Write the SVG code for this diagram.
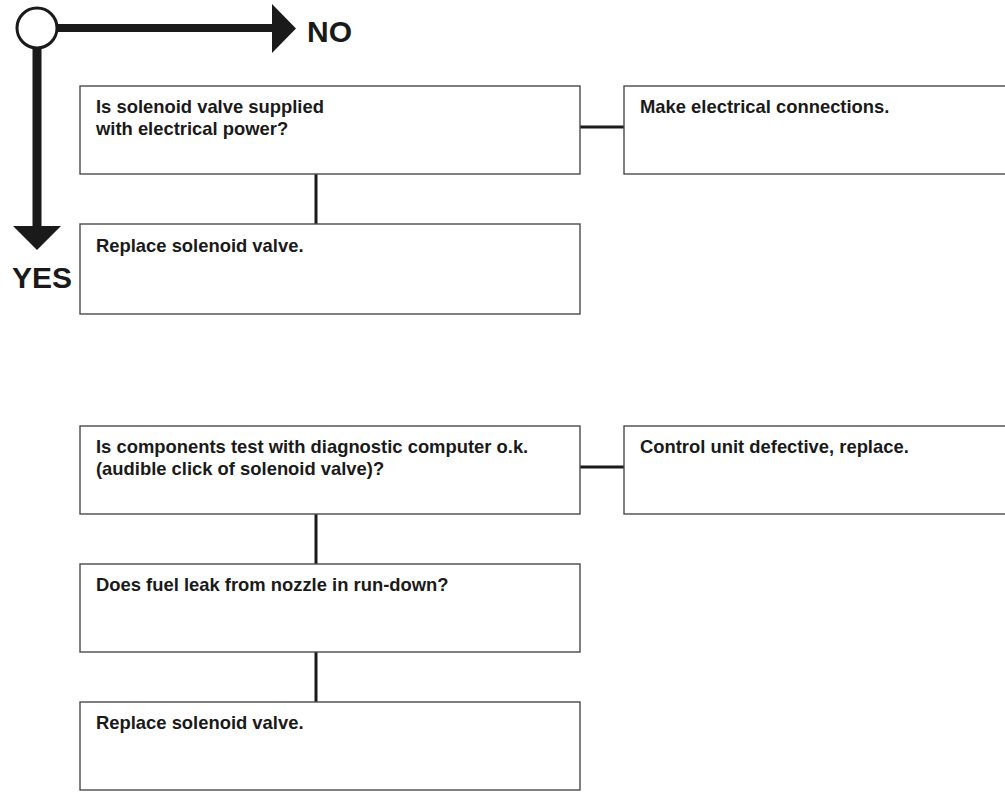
<svg xmlns="http://www.w3.org/2000/svg" width="1005" height="792" viewBox="0 0 1005 792">
<style>
.box{fill:#fff;stroke:#4a4a4a;stroke-width:1.4}
.t{font-family:"Liberation Sans",Arial,sans-serif;font-weight:bold;font-size:18.4px;fill:#1a1a1a}
.big{font-family:"Liberation Sans",Arial,sans-serif;font-weight:bold;font-size:30px;fill:#1a1a1a}
.conn{stroke:#1a1a1a;stroke-width:3;fill:none}
</style>
<rect width="1005" height="792" fill="#fff"/>
<g id="legend">
<line x1="57" y1="28" x2="274" y2="28" stroke="#1a1a1a" stroke-width="8"/>
<polygon points="272,4 296,28.5 272,53" fill="#1a1a1a"/>
<line x1="37" y1="48" x2="37" y2="229" stroke="#1a1a1a" stroke-width="9"/>
<polygon points="13,226 61,226 37,250" fill="#1a1a1a"/>
<circle cx="37" cy="28" r="20" fill="#fff" stroke="#1a1a1a" stroke-width="3"/>
<text class="big" x="307" y="42">NO</text>
<text class="big" x="12" y="288">YES</text>
</g>
<g id="connectors">
<line class="conn" x1="580" y1="127" x2="624" y2="127"/>
<line class="conn" x1="316" y1="174" x2="316" y2="224"/>
<line class="conn" x1="580" y1="467" x2="624" y2="467"/>
<line class="conn" x1="316" y1="514" x2="316" y2="564"/>
<line class="conn" x1="316" y1="652" x2="316" y2="702"/>
</g>
<g id="n1"><rect class="box" x="80" y="86" width="500" height="88"/>
<text class="t" x="96" y="113">Is solenoid valve supplied</text>
<text class="t" x="96" y="135">with electrical power?</text></g>
<g id="n2"><rect class="box" x="624" y="86" width="400" height="88"/>
<text class="t" x="640" y="113">Make electrical connections.</text></g>
<g id="n3"><rect class="box" x="80" y="224" width="500" height="90"/>
<text class="t" x="96" y="252">Replace solenoid valve.</text></g>
<g id="n4"><rect class="box" x="80" y="426" width="500" height="88"/>
<text class="t" x="96" y="453">Is components test with diagnostic computer o.k.</text>
<text class="t" x="96" y="475">(audible click of solenoid valve)?</text></g>
<g id="n5"><rect class="box" x="624" y="426" width="400" height="88"/>
<text class="t" x="640" y="453">Control unit defective, replace.</text></g>
<g id="n6"><rect class="box" x="80" y="564" width="500" height="88"/>
<text class="t" x="96" y="591">Does fuel leak from nozzle in run-down?</text></g>
<g id="n7"><rect class="box" x="80" y="702" width="500" height="88"/>
<text class="t" x="96" y="729">Replace solenoid valve.</text></g>
</svg>
